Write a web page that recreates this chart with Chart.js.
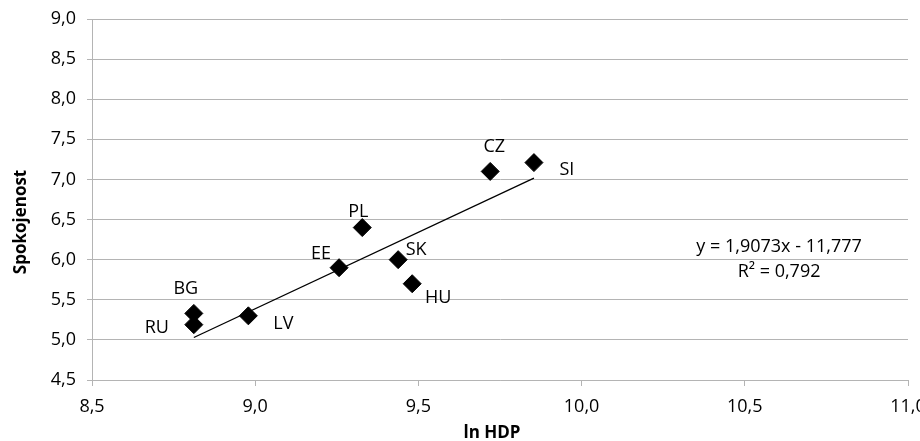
<!DOCTYPE html>
<html>
<head>
<meta charset="utf-8">
<script src="https://cdn.jsdelivr.net/npm/chart.js@4/dist/chart.umd.min.js"></script>
<style>
  html, body { margin: 0; padding: 0; background: #fff; }
  #wrap { width: 920px; height: 441px; }
</style>
</head>
<body>
<div id="wrap"><canvas id="scatterChart" width="920" height="441"></canvas></div>
<script>
// countries and values
const countries = ['BG', 'RU', 'LV', 'EE', 'PL', 'SK', 'HU', 'CZ', 'SI'];
const lnHdp = [8.812, 8.812, 8.979, 9.257, 9.328, 9.438, 9.481, 9.720, 9.854];
const spokojenost = [5.33, 5.19, 5.30, 5.90, 6.40, 6.00, 5.70, 7.10, 7.21];

// linear trend from the equation shown in the chart
const slope = 1.9073;
const intercept = -11.777;
const equationLines = ['y = 1,9073x - 11,777', 'R\u00B2 = 0,792'];

const xTicks = [8.5, 9.0, 9.5, 10.0, 10.5, 11.0];
const yTicks = [4.5, 5.0, 5.5, 6.0, 6.5, 7.0, 7.5, 8.0, 8.5, 9.0];

const xTitle = 'ln HDP';
const yTitle = 'Spokojenost';

// label offsets (px) from each point
const labelOffsets = {
    BG: [-8, -25], RU: [-37, 3], LV: [35, 8], EE: [-18, -14], PL: [-4, -16],
    SK: [18, -10], HU: [26, 14], CZ: [4, -25], SI: [33, 7]
};

const font = '"Open Sans", "DejaVu Sans", sans-serif';
const textColor = '#000';
const gridColor = '#b4b4b4';

const fmt = v => Number(v).toFixed(1).replace('.', ',');

const points = lnHdp.map((x, i) => ({ x: x, y: spokojenost[i] }));
const xMin = Math.min(...lnHdp);
const xMax = Math.max(...lnHdp);
const trend = [
    { x: xMin, y: slope * xMin + intercept },
    { x: xMax, y: slope * xMax + intercept }
];

// draws country labels, trend equation and axis titles
const textPlugin = {
    id: 'textPlugin',
    afterDatasetsDraw(chart) {
        const ctx = chart.ctx;
        const meta = chart.getDatasetMeta(0);
        ctx.save();
        ctx.fillStyle = textColor;
        ctx.font = '18px ' + font;
        ctx.textAlign = 'center';
        ctx.textBaseline = 'middle';
        meta.data.forEach((el, i) => {
            const off = labelOffsets[countries[i]];
            ctx.fillText(countries[i], el.x + off[0], el.y + off[1]);
        });

        // equation
        const xs = chart.scales.x;
        const ys = chart.scales.y;
        const ex = xs.getPixelForValue(10.605);
        const ey = ys.getPixelForValue(6.165);
        ctx.fillText(equationLines[0], ex, ey);
        ctx.fillText(equationLines[1], ex, ey + 25);

        // axis titles
        ctx.font = 'bold 17px ' + font;
        ctx.textBaseline = 'alphabetic';
        ctx.fillText(xTitle, 492, 438);
        ctx.translate(26, 222);
        ctx.rotate(-Math.PI / 2);
        ctx.fillText(yTitle, 0, 0);
        ctx.restore();
    }
};

const ctx = document.getElementById('scatterChart').getContext('2d');
const scatterChart = new Chart(ctx, {
    type: 'scatter',
    data: {
        datasets: [{
            label: 'Spokojenost',
            data: points,
            pointStyle: 'rectRot',
            pointRadius: 9,
            pointBorderWidth: 1,
            backgroundColor: '#000',
            borderColor: '#000'
        }, {
            type: 'line',
            label: 'Trend',
            data: trend,
            borderColor: '#000',
            borderWidth: 1.3,
            pointRadius: 0,
            fill: false
        }]
    },
    options: {
        responsive: false,
        animation: false,
        events: [],
        layout: { padding: { top: 19, right: 12, bottom: 0, left: 0 } },
        plugins: {
            legend: { display: false },
            tooltip: { enabled: false }
        },
        scales: {
            x: {
                type: 'linear',
                min: 8.5,
                max: 11.0,
                afterBuildTicks: s => { s.ticks = xTicks.map(v => ({ value: v })); },
                afterFit: s => { s.height = 61; s.paddingLeft = 0; s.paddingRight = 0; },
                grid: {
                    drawOnChartArea: false,
                    drawTicks: true,
                    tickLength: 6,
                    color: gridColor
                },
                border: { color: gridColor, width: 1 },
                ticks: {
                    padding: 10,
                    color: textColor,
                    font: { family: font, size: 18 },
                    maxRotation: 0,
                    callback: v => fmt(v)
                }
            },
            y: {
                type: 'linear',
                min: 4.5,
                max: 9.0,
                afterBuildTicks: s => { s.ticks = yTicks.map(v => ({ value: v })); },
                afterFit: s => { s.width = 92; s.paddingTop = 0; s.paddingBottom = 0; },
                grid: {
                    drawTicks: true,
                    tickLength: 5,
                    color: gridColor
                },
                border: { color: gridColor, width: 1 },
                ticks: {
                    padding: 11,
                    color: textColor,
                    font: { family: font, size: 18 },
                    callback: v => fmt(v)
                }
            }
        }
    },
    plugins: [textPlugin]
});
</script>
</body>
</html>
